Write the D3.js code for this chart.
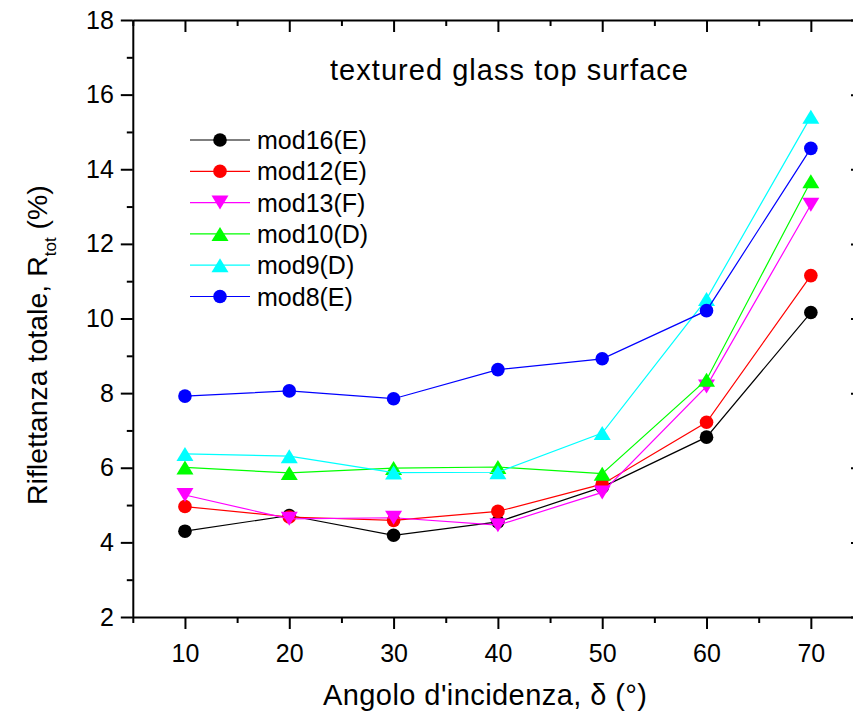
<!DOCTYPE html>
<html>
<head>
<meta charset="utf-8">
<script src="https://cdnjs.cloudflare.com/ajax/libs/d3/7.8.5/d3.min.js"></script>
<style>
  body { margin: 0; background: #fff; }
  svg text { font-family: "Liberation Sans", Arial, sans-serif; fill: #000; }
</style>
</head>
<body>
<svg id="chart" width="853" height="719"></svg>
<script>
// angles of incidence (deg)
var angles = [10, 20, 30, 40, 50, 60, 70];

// total reflectance per model (%)
var mod16E = [4.30, 4.72, 4.19, 4.55, 5.48, 6.82, 10.16];
var mod12E = [4.96, 4.68, 4.59, 4.83, 5.56, 7.22, 11.15];
var mod13F = [5.27, 4.63, 4.66, 4.46, 5.34, 8.18, 13.05];
var mod10D = [6.01, 5.86, 5.99, 6.02, 5.84, 8.36, 13.68];
var mod9D = [6.37, 6.31, 5.87, 5.88, 6.93, 10.52, 15.41];
var mod8E = [7.92, 8.06, 7.85, 8.63, 8.92, 10.21, 14.56];

var seriesNames = ['mod16(E)', 'mod12(E)', 'mod13(F)', 'mod10(D)', 'mod9(D)', 'mod8(E)'];
var seriesValues = [mod16E, mod12E, mod13F, mod10D, mod9D, mod8E];
var seriesColors = ['#000000', '#ff0000', '#ff00ff', '#00ff00', '#00ffff', '#0000ff'];
var seriesSymbols = ['circle', 'circle', 'down', 'up', 'up', 'circle'];

var xTicks = [10, 20, 30, 40, 50, 60, 70];
var yTicks = [2, 4, 6, 8, 10, 12, 14, 16, 18];

(function () {
    var svg = d3.select('#chart');

    var pLeft = 132.8, pRight = 863, pTop = 20, pBottom = 617;
    var x = d3.scaleLinear().domain([5, 75]).range([pLeft, pRight]);
    var y = d3.scaleLinear().domain([2, 18]).range([pBottom, pTop]);

    var minorX = d3.range(5, 76, 10);
    var minorY = d3.range(3, 18, 2);

    //axes: left / bottom ticks outward, top / right ticks inward
    function styleAxis(g) {
        g.selectAll('path, line').attr('stroke', '#000').attr('stroke-width', 2);
        g.selectAll('text').attr('font-size', 25).attr('fill', '#000')
            .attr('font-family', '"Liberation Sans", Arial, sans-serif');
    }

    var gx = svg.append('g').attr('transform', 'translate(0,' + pBottom + ')')
        .call(d3.axisBottom(x).tickValues(xTicks).tickSize(12).tickSizeOuter(0).tickPadding(9));
    styleAxis(gx);
    gx.selectAll('text').attr('dy', '0.95em');
    svg.append('g').attr('transform', 'translate(0,' + pBottom + ')')
        .call(d3.axisBottom(x).tickValues(minorX).tickSize(6).tickFormat(''))
        .call(styleAxis).select('.domain').remove();

    var gy = svg.append('g').attr('transform', 'translate(' + pLeft + ',0)')
        .call(d3.axisLeft(y).tickValues(yTicks).tickSize(12).tickSizeOuter(0).tickPadding(7));
    styleAxis(gy);
    svg.append('g').attr('transform', 'translate(' + pLeft + ',0)')
        .call(d3.axisLeft(y).tickValues(minorY).tickSize(6).tickFormat(''))
        .call(styleAxis).select('.domain').remove();

    var gt = svg.append('g').attr('transform', 'translate(0,' + pTop + ')')
        .call(d3.axisBottom(x).tickValues(xTicks).tickSize(12).tickSizeOuter(0).tickFormat(''));
    styleAxis(gt);
    svg.append('g').attr('transform', 'translate(0,' + pTop + ')')
        .call(d3.axisBottom(x).tickValues(minorX).tickSize(6).tickFormat(''))
        .call(styleAxis).select('.domain').remove();

    var gr = svg.append('g').attr('transform', 'translate(' + pRight + ',0)')
        .call(d3.axisLeft(y).tickValues(yTicks).tickSize(12).tickSizeOuter(0).tickFormat(''));
    styleAxis(gr);

    // marker shapes
    function marker(g, kind, color) {
        if (kind === 'circle') {
            g.append('circle').attr('r', 6.8).attr('fill', color);
        } else {
            var w = 8.5, h = 7;
            var p = kind === 'up'
                ? [[-w, h], [w, h], [0, -h]]
                : [[-w, -h], [w, -h], [0, h]];
            g.append('path').attr('d', 'M' + p.join('L') + 'Z').attr('fill', color);
        }
    }

    var line = d3.line()
        .x(function (d) { return x(d[0]); })
        .y(function (d) { return y(d[1]); });

    seriesValues.forEach(function (vals, i) {
        var pts = angles.map(function (a, j) { return [a, vals[j]]; });
        var gs = svg.append('g').attr('class', 'series');
        gs.append('path').datum(pts).attr('d', line)
            .attr('fill', 'none').attr('stroke', seriesColors[i]).attr('stroke-width', 1.2);
        gs.selectAll('g.pt').data(pts).enter().append('g').attr('class', 'pt')
            .attr('transform', function (d) { return 'translate(' + x(d[0]) + ',' + y(d[1]) + ')'; })
            .each(function () { marker(d3.select(this), seriesSymbols[i], seriesColors[i]); });
    });

    // legend
    var leg = svg.append('g').attr('transform', 'translate(190,140)');
    seriesNames.forEach(function (name, i) {
        var row = leg.append('g').attr('transform', 'translate(0,' + (i * 31.3) + ')');
        row.append('line').attr('x1', 0).attr('x2', 60).attr('y1', 0).attr('y2', 0)
            .attr('stroke', seriesColors[i]).attr('stroke-width', 1.2);
        var m = row.append('g').attr('transform', 'translate(30,0)');
        marker(m, seriesSymbols[i], seriesColors[i]);
        row.append('text').attr('x', 67).attr('y', 0).attr('dy', '0.36em')
            .attr('font-size', 25).text(name);
    });

    // titles
    svg.append('text').attr('x', 330).attr('y', 80).attr('font-size', 29)
        .attr('textLength', 358).attr('lengthAdjust', 'spacing')
        .text('textured glass top surface');

    svg.append('text').attr('x', 323).attr('y', 705).attr('font-size', 29)
        .attr('textLength', 324).attr('lengthAdjust', 'spacing')
        .text('Angolo d\'incidenza, \u03b4 (\u00b0)');

    var yt = svg.append('text').attr('transform', 'translate(47,505) rotate(-90)')
        .attr('font-size', 28.5);
    yt.append('tspan').text('Riflettanza totale, R');
    yt.append('tspan').attr('font-size', 17).attr('dy', 9).text('tot');
    yt.append('tspan').attr('dy', -9).text(' (%)');
})();
</script>
</body>
</html>
